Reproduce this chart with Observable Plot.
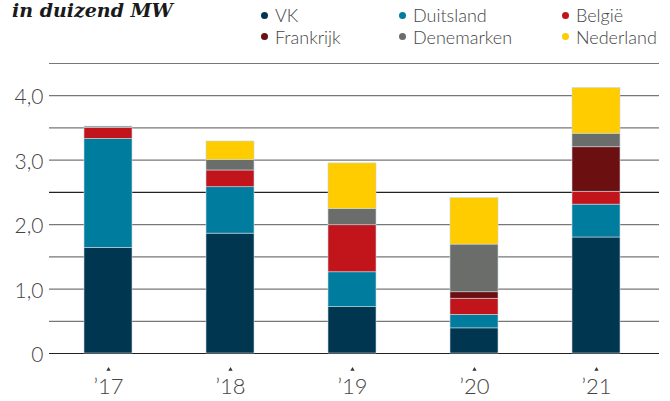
<!DOCTYPE html>
<html><head><meta charset="utf-8">
<script src="https://cdn.jsdelivr.net/npm/d3@7"></script>
<script src="https://cdn.jsdelivr.net/npm/@observablehq/plot@0.6"></script>
<style>
body{margin:0;background:#fff;width:670px;height:401px;overflow:hidden;}
#head{position:relative;height:50px;font-family:Lato,"Open Sans",sans-serif;}
#title{position:absolute;left:12px;top:-3px;font-family:"DejaVu Serif",serif;font-weight:bold;font-style:italic;font-size:19px;color:#1a1a1a;line-height:26px;}
.li{position:absolute;font-size:18px;font-weight:300;color:#444;white-space:nowrap;line-height:22px;}
.li i{position:absolute;left:-14px;top:7.5px;width:7px;height:7px;border-radius:50%;}
#chart svg{display:block;}
</style></head><body>
<div id="head"><div id="title">in duizend MW</div></div>
<div id="chart"></div>
<script>
const years = ["’17","’18","’19","’20","’21"];
const countries = ["VK","Duitsland","België","Frankrijk","Denemarken","Nederland"];
const colors = ["#003650","#007c9e","#c1151b","#6b0f10","#6b6d6b","#ffcc00"];
const VK =         [1.64,1.86,0.72,0.39,1.80];
const Duitsland =  [1.69,0.72,0.54,0.21,0.51];
const Belgie =     [0.17,0.26,0.73,0.25,0.20];
const Frankrijk =  [0.00,0.00,0.00,0.10,0.69];
const Denemarken = [0.02,0.16,0.25,0.74,0.21];
const Nederland =  [0.00,0.29,0.71,0.72,0.71];
const yTicks = [0,1,2,3,4];
const gridLines = [0,0.5,1,1.5,2,2.5,3,3.5,4,4.5];

const series = [VK,Duitsland,Belgie,Frankrijk,Denemarken,Nederland];
const data = [];
series.forEach((s,i)=>s.forEach((v,j)=>data.push({year:years[j],country:countries[i],value:v})));

// legend
const head = document.getElementById("head");
const legPos = [[275,4],[413,4],[576,4],[275,25.5],[413,25.5],[576,25.5]];
countries.forEach((c,k)=>{
  const d=document.createElement("div");d.className="li";
  d.style.left=legPos[k][0]+"px";d.style.top=legPos[k][1]+"px";
  d.innerHTML=`<i style="background:${colors[k]}"></i>${c}`;
  head.appendChild(d);
});

const chart = Plot.plot({
  width:670,height:351,
  marginLeft:49,marginRight:11,marginTop:13,marginBottom:48,
  style:{fontFamily:"Lato, 'Open Sans', sans-serif",background:"#fff"},
  x:{domain:years,range:[82,621],paddingInner:0.61,paddingOuter:0,label:null},
  y:{domain:[0,4.5],label:null},
  color:{domain:countries,range:colors},
  marks:[
    Plot.ruleY(gridLines,{stroke:d=>d===0||d===2.5?"#222":"#777",strokeWidth:1.2}),
    Plot.barY(data,{x:"year",y:"value",fill:"country",order:countries,stroke:"#c9d7de",strokeWidth:0.6}),
    Plot.axisY(yTicks,{tickSize:0,tickPadding:6,fontSize:21,fontWeight:300,fill:"#444",dy:2,
      tickFormat:d=>d===0?"0":d.toFixed(1).replace(".",",")}),
    Plot.axisX({tickSize:0,tickPadding:25,fontSize:22,fontWeight:300,fill:"#444"}),
    Plot.dot(years,{x:d=>d,frameAnchor:"bottom",dy:16,symbol:"triangle",r:1.6,fill:"#333"})
  ]
});
document.getElementById("chart").appendChild(chart);
</script>
</body></html>
